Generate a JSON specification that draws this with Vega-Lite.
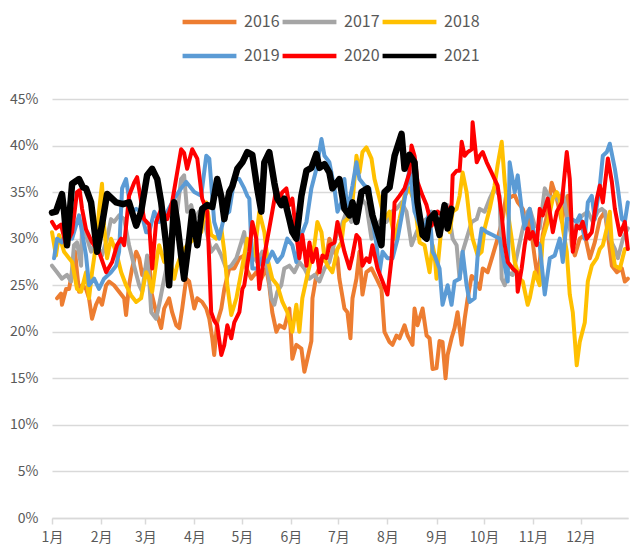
{
  "$schema": "https://vega.github.io/schema/vega-lite/v6.json",
  "width": 576,
  "height": 419,
  "autosize": {"type": "none"},
  "padding": {"left": 52, "top": 99, "right": 2, "bottom": 33},
  "background": "white",
  "config": {
    "font": "Noto Sans CJK SC",
    "view": {"stroke": null}
  },
  "data": {
    "values": [
      {"s": "2016",
       "d": [4.2,6.7,7.3,9.9,11.8,13.7,15.6,16.8,18.1,20,22.5,24.4,26.3,28.8,30.7,32.6,35.2,37.1,40.2,43.4,46.6,47.8,49.7,51.6,54.2,56.1,58,61.1,62.4,63.7,66.8,70,71.9,75,76.9,79.5,81.4,83.3,85.8,87.7,90.9,92.8,95.9,98.5,100.4,102.3,103.5,105.4,108,109.9,113,116.2,119.4,122.5,123.8,126.9,130.1,133.3,136.4,138.3,140.2,142.8,144.7,147.8,151,152.9,155.4,158.6,160.5,162.4,164.9,165.6,168.1,171.3,174.4,176.3,179.5,181.4,182.6,185.8,187.7,189.6,190.9,193.4,195.3,197.2,199.7,202.9,206.1,209.2,211.1,214.3,216.2,218.7,220.6,223.8,225.7,228.8,230.1,232,235.2,237.7,239.6,241.5,244,245.9,247.8,249.7,251,253.5,255.4,257.3,259.9,261.8,263.7,266.2,268.1,271.3,273.2,276.3,279.5,282.6,285.8,288.3,290.2,293.4,295.3,298.5,301.6,302.9,306.1,308,311.1,314.3,316.8,320,323.2,325.1,327,329.5,331.4,334.5,337.7,340.9,344,347.2,350.4,352.3,354.8,358,361.1,363,364.9],
       "v": [23.6,24.1,22.9,24.6,24.6,26.4,28.6,26.4,24.3,25,24.6,23.6,21.4,22.9,23.6,22.9,25,25.4,25,24.3,23.6,21.8,25,26.8,28.6,27.9,26.1,27.1,27.9,24.3,22.1,20.4,22.5,23.6,22.1,20.7,20.4,22.5,25.7,25.4,22.5,23.6,23.2,22.5,21.4,19.3,17.5,21,22.5,24.6,26.8,26.8,27.9,28.2,26.8,25.7,26.4,25.7,26.8,25,22.1,20,20.7,20.4,22.5,17.1,18.6,18.2,15.7,17.1,19,23.6,26.1,27.5,28.2,30,28.6,27.9,25.7,22.5,22.1,19.3,23.6,25.7,28.6,24,26.4,26.8,25.7,24.6,20,18.9,18.6,19.6,19.3,20.7,19.6,18.6,22.5,20.7,22.5,19.6,19.3,16,16.1,19,18.9,15,17.5,19.3,20.4,22.1,18.6,21.4,23.6,26,25.7,24.6,26.8,26.4,28.2,30,32.1,35,34.4,34.7,33.9,33.2,31.4,32.1,27.9,25.7,30.4,32.9,36,34.3,31.8,33.9,34.6,29.3,28.2,30,30.4,27.9,29.6,32.1,32.9,30.4,27.1,26.4,26.8,25.4,25.7]},
      {"s": "2017",
       "d": [1,4.2,7.3,10.5,13,14.9,16.8,19.4,20,23.2,25.7,28.8,32.6,35.8,38.3,40.2,43.4,46.6,49.7,52.9,56.1,58,61.1,62.4,63.7,66.8,68.7,71.9,75,78.2,80.1,82.6,84.5,86.4,89,90.9,94,97.2,101.6,104.8,108,111.1,114.3,117.5,120.6,122.5,124.4,127.6,130.7,133.9,137.1,139.6,141.5,143.4,145.9,147.8,151,154.2,157.3,160.5,163.7,166.8,170,173.2,176.3,179.5,181.4,183.9,187.1,190.2,193.4,196.6,199.7,202.9,206.1,209.2,212.4,215.6,218.7,221.9,225,228.2,231.4,234.5,237.7,240.9,244,247.8,251,254.2,256.7,258.6,260.5,263,266.2,269.4,271.3,274.4,277.6,280.7,283.9,285.2,287.1,289,292.1,295.3,298.5,301.6,302.9,306.1,309.2,312.4,315.6,318.7,321.9,323.8,327,330.1,333.3,336.4,339.6,342.8,345.9,348.5,350.4,353.5,356.7,358.6,361.8,364.9],
       "v": [27.1,26.4,25.7,26.1,25.4,29.3,29.6,27.1,31.8,30,28.6,29.6,28.2,30,32.1,31.8,32.5,32.1,29.3,27.1,25,24.3,28.2,25.7,22.1,21.4,22.9,25.7,28.2,31.4,32.9,36.4,36.8,32.9,33.6,32.1,32.9,31.8,28.6,29.3,28.2,26.8,27.1,27.9,29.6,30.7,27.9,28.2,27.5,28.6,26.8,23.6,22.9,24.3,25,26.8,27.1,26.4,27.5,26.8,25.7,26.1,25.4,26.8,27.5,29.6,30.7,31.4,32.9,31.8,32.9,34.3,33.6,30,31.4,32.1,31.8,32.9,33.2,33.9,32.9,29.3,30.7,31.8,32.1,32.9,32.1,32.1,33.6,30,29.3,25.7,28.6,30,31.8,32.1,33.2,32.9,34.3,35.4,34.6,25.7,25,26.4,26.1,28.6,31.1,32.9,33.2,31.4,31.1,35.4,34.3,34.6,33.9,35,31.8,30,32.1,32.5,32.9,31.8,32.9,33.2,32.9,30,28.9,27.9,30,31.1]},
      {"s": "2018",
       "d": [1,3.5,5.4,8.6,11.8,13.7,16.8,19.4,22.5,24.4,26.3,28.8,30.7,32.6,33.9,35.8,38.3,41.5,44.7,47.8,51,54.2,57.3,60.5,62.4,64.3,67.5,68.7,71.9,75,78.2,80.1,83.3,86.4,90.9,95.3,98.5,101.6,104.8,108,109.9,111.8,114.3,117.5,120.6,124.4,128.8,132,135.2,137.1,140.2,143.4,146.6,149.7,152.9,155.4,157.3,159.2,162.4,164.9,166.8,168.7,171.3,173.2,175.1,178.2,181.4,183.9,185.5,187.7,190.9,193.4,195.3,197.2,199.7,202.9,204.8,208,211.1,214.3,217.5,220.6,223.8,226.9,230.1,233.3,236.4,239.6,241.5,242.8,244,247.2,250.4,252.3,254.2,256.7,258.6,260.5,263,264.9,266.8,270,272.5,274.4,277.6,280.7,282.6,285.2,287.1,289,291.5,293.4,296.6,298.5,301.6,302.9,306.1,309.2,311.1,314.3,317.5,320,321.9,323.8,326.3,328.2,330.1,332.6,334.5,337.7,339.6,342.1,345.3,347.2,349.1,351.6,353.5,354.8,356.7,359.9,363,364.9],
       "v": [30.7,28.2,30.4,28.6,27.9,27.5,24.6,24.3,26.4,23.6,26.4,29.3,32.9,35.9,31.4,27.9,30,28.6,26.4,25,23.9,23.2,23.6,26.4,25.7,24.3,28.2,29.3,27.5,28.2,25.7,27.1,28.6,29.3,30,30.7,33.9,30.4,30,31.1,28.6,25,21.8,23.6,26.4,30,28.2,32.9,30.7,27.9,25.7,25,23.2,22.1,20,22.9,20,23.6,26.1,27.9,29.3,31.8,30.7,27.9,27.1,26.4,28.9,29.6,31.8,32.1,33.9,38.9,37.1,39.3,39.8,38.6,36.4,34.3,32.1,32.9,30,32.1,34.6,35.4,33.9,29.6,29.3,26.4,29.3,28.2,25.7,31.4,31.8,30.7,32.9,33.2,34.6,37.1,35,32.1,30,28.2,28.6,31.1,33.2,35.7,37.9,40.4,36.1,32.9,30,27.5,25.7,25.4,22.9,23.6,26.4,25,30,31.8,34.3,35,34.3,31.1,28.6,24,22.1,16.4,18.9,21,25.4,27.1,27.9,28.9,29.3,31.1,32.9,29.3,27.1,26.8,28.9,28.9]},
      {"s": "2019",
       "d": [2.3,4.2,7.3,10.5,13.7,18.1,20,22.5,24.4,27.6,30.7,33.9,38.3,41.5,43.4,45.3,47.8,49.7,51.6,54.2,57.3,60.5,62.4,65.6,68.7,73.8,78.2,82.6,85.8,90.9,95.3,98.5,100.4,103.5,106.7,109.9,113,116.2,119.4,122.5,124.4,125.7,127.6,130.7,133.9,137.1,140.2,143.4,146.6,149.7,152.9,155.4,158.6,161.8,164.9,168.1,171.3,173.2,176.3,179.5,181.4,183.9,185.8,187.7,190.9,193.4,195.3,198.5,201.6,203.5,206.1,208,209.9,213,216.2,219.4,222.5,225,226.9,230.1,233.3,236.4,239.6,241.5,242.8,245.9,247.8,251,253.5,255.4,258.6,260.5,263,264.9,268.1,270,272.5,275.7,279.5,283.9,287.1,289,290.2,293.4,295.3,297.8,299.7,301.6,302.9,306.1,309.2,312.4,315.6,318.7,321.9,323.8,326.3,329.5,332.6,334.5,337.7,339.6,342.1,344,347.2,349.1,351.6,353.5,356.7,358.6,361.1,363,364.9],
       "v": [27.9,30,29.6,31.1,30,32.5,30.7,28.2,25,25.7,24.6,25.7,26.4,27.1,28.6,35.4,36.4,34.3,32.9,33.2,32.9,30.7,30.7,32.9,31.8,32.9,34.3,35.4,36.1,35,34.6,38.9,38.6,31.8,30,32.5,32.9,36.4,36.4,35.4,34.6,34.3,26.8,26.8,27.9,27.5,28.6,27.5,28.2,30,29.3,27.5,30.4,31.8,35.4,37.5,40.7,38.9,38.2,35.4,32.9,33.9,36.4,32.9,35.7,38.2,36.4,35.7,35.4,32.1,29.3,26.4,28.6,27.9,27.9,30,32.9,35.4,37.5,32.9,31.4,31.1,32.9,28.6,28.2,26.8,22.9,25,22.9,25.4,25.7,28.6,25,23.2,23.6,28.2,31.1,30.7,30.4,30,27.1,25.4,38.2,35,36.8,33.2,31.1,32.5,33.2,30,29.3,24,27.9,28.2,30,27.5,32.1,32.1,31.8,32.5,30,33.9,34.6,32.1,35.7,38.9,39.3,40.2,37.5,35.4,32.1,31.8,33.9]},
      {"s": "2020",
       "d": [1,3.5,6.7,9.9,11.8,13.7,16.8,18.5,20,22.5,26.3,30.7,35.2,39,42.1,44.7,46.6,49.7,52.9,54.8,57.3,59.2,62.4,64.3,66.8,70,73.8,76.9,82.6,84.5,86.4,89.6,92.8,95.9,99.1,101.6,103.5,105.4,108,109.9,111.8,114.3,116.2,119.4,121.3,122.5,125.7,127.6,130.1,132,135.2,138.3,140.2,142.8,144.7,146.6,149.1,151,152.9,155.4,157.3,159.2,161.8,163.7,165.6,168.1,170,171.9,174.4,176.3,179.5,181.4,183.9,185.8,189,190.9,193.4,195.3,197.2,199.7,201.6,203.5,206.7,209.9,213,215.6,217.5,220.6,223.8,226.9,228.2,230.1,232,235.2,237.7,240.9,244.7,247.8,251,253.5,254.2,256.7,258.6,259.9,261.8,263.7,266.2,266.8,269.4,271.3,273.2,275.7,278.8,282.6,285.2,287.1,289,292.1,294.7,295.3,297.8,299.7,301.6,302.9,304.8,307.3,309.2,311.1,314.3,317.5,320,323.2,326.3,328.2,330.1,332.6,334.5,336.4,338.9,342.1,345.3,347.2,349.1,352.3,354.8,356.7,359.9,363,364.9],
       "v": [31.8,31.1,31.5,29.3,30,30.7,35,35.2,33.2,31,29.6,28.6,26.4,27.5,29.3,30,29.3,34.6,36,36.6,34,32.1,31.5,26.8,31.8,33.2,32.1,33.9,39.6,39.2,37.5,39.6,38.6,34.3,32.9,22.1,21.2,20.7,17.5,18.6,20.7,19.3,21,22.1,24.6,25,28.6,31.8,30,24.6,28.2,31.1,32.9,35.4,34.3,35,35.4,33.6,34.3,30.4,27.9,30.4,27.1,29.6,27.5,28.9,26.4,28.2,27.9,29.3,29.6,31.8,30,28.6,26.8,28.2,30.4,30,27.1,27.9,27.5,29.3,26.8,25.4,24,27.9,33.9,34.6,35.4,37.1,40,38.9,36.1,34.6,33.6,31.4,32.9,32.5,32.9,33.6,36.8,37.3,37.3,40.4,38.9,39.3,39.6,42.5,38.2,38.9,39.3,38.2,37.1,35.7,32.5,29.3,27.5,26.8,26.4,24.3,26.8,29.3,31.1,30,30.7,29.3,33.2,32.5,34.3,30.7,32.9,33.9,39.3,36.4,28.6,31.4,31.1,31.8,30,30.7,34.3,35.7,33.9,38.6,36.1,33.2,30.4,31.8,28.9]},
      {"s": "2021",
       "d": [1,3.5,7.3,8.6,10.5,13.7,18.1,20.6,22.5,25.7,29.5,32.6,35.8,41.5,45.9,49.7,54.2,57.3,61.1,64.3,67.5,70,73.2,75,78.2,80.1,82.6,84.5,87.7,89.6,92.8,95.9,99.1,102.3,105.4,108,109.9,113,114.9,118.1,121.3,124.4,127.6,130.7,133.3,135.2,138.3,141.5,143.4,145.9,147.8,151,152.9,155.4,158.6,161.8,164.9,168.1,170,173.2,176.3,178.2,182.6,185.8,189,190.9,193.4,196.6,200.4,203.5,206.7,209.2,211.1,214.3,217.5,221.9,223.8,226.9,230.1,232,235.2,237.7,239.6,242.8,245.9,249.1,251,253.5],
       "v": [32.8,32.9,34.8,33,29.3,35.9,36.4,35.5,35.4,33.9,28.6,31.5,34.8,33.9,33.7,33.9,31.4,32.9,36.8,37.5,36.4,33.9,29.3,25,33.9,31.8,28.2,25.7,30,32.9,29.3,33.2,33.6,33.4,36.4,34.5,32.1,35,35.6,37.5,38.2,39.3,39,35.4,32.9,38.2,39.3,36,34.3,33.6,34.3,32.1,30.7,30,34.6,37.3,37.6,39.1,37.6,38,37.1,35.4,36.4,33.2,32.5,33.9,31.8,35,35.4,32.5,30.7,29.3,35,35.5,38.9,41.25,37.5,39,38.2,33.9,30.4,30,32.1,32.7,30.4,33.6,31.1,33.2]}
    ]
  },
  "transform": [{"flatten": ["d", "v"]}],
  "encoding": {
    "x": {
      "field": "d", "type": "quantitative",
      "scale": {"domain": [1, 365], "nice": false, "zero": false},
      "axis": {
        "title": null,
        "values": [1, 32, 60, 91, 121, 152, 182, 213, 244, 274, 305, 335],
        "labelExpr": "(indexof([1,32,60,91,121,152,182,213,244,274,305,335], datum.value) + 1) + '月'",
        "grid": false,
        "domain": true, "domainColor": "#d9d9d9", "domainWidth": 1.5,
        "ticks": true, "tickColor": "#d9d9d9", "tickSize": 6, "tickWidth": 1.5,
        "labelFontSize": 14, "labelColor": "#595959", "labelPadding": 6,
        "labelFlush": false
      }
    },
    "y": {
      "field": "v", "type": "quantitative",
      "scale": {"domain": [0, 45], "nice": false},
      "axis": {
        "title": null,
        "values": [0, 5, 10, 15, 20, 25, 30, 35, 40, 45],
        "labelExpr": "datum.value + '%'",
        "grid": true, "gridColor": "#d9d9d9", "gridWidth": 1.5,
        "domain": false, "ticks": false,
        "labelFontSize": 14, "labelColor": "#595959", "labelPadding": 14
      }
    },
    "color": {
      "field": "s", "type": "nominal",
      "scale": {
        "domain": ["2016", "2017", "2018", "2019", "2020", "2021"],
        "range": ["#ED7D31", "#A5A5A5", "#FFC000", "#5B9BD5", "#FF0000", "#000000"]
      },
      "legend": {
        "title": null,
        "orient": "none",
        "legendX": 128,
        "legendY": -93,
        "direction": "horizontal",
        "columns": 3,
        "symbolType": "stroke",
        "symbolSize": 2900,
        "symbolStrokeWidth": 4.5,
        "labelFontSize": 16,
        "labelColor": "#595959",
        "labelOffset": 5,
        "columnPadding": -5,
        "rowPadding": 2,
        "clipHeight": 32,
        "padding": 0
      }
    }
  },
  "layer": [
    {
      "transform": [{"filter": "datum.s !== '2021'"}],
      "mark": {"type": "line", "strokeWidth": 4, "strokeJoin": "round", "strokeCap": "round"}
    },
    {
      "transform": [{"filter": "datum.s === '2021'"}],
      "mark": {"type": "line", "strokeWidth": 6.5, "strokeJoin": "round", "strokeCap": "round"}
    }
  ]
}
